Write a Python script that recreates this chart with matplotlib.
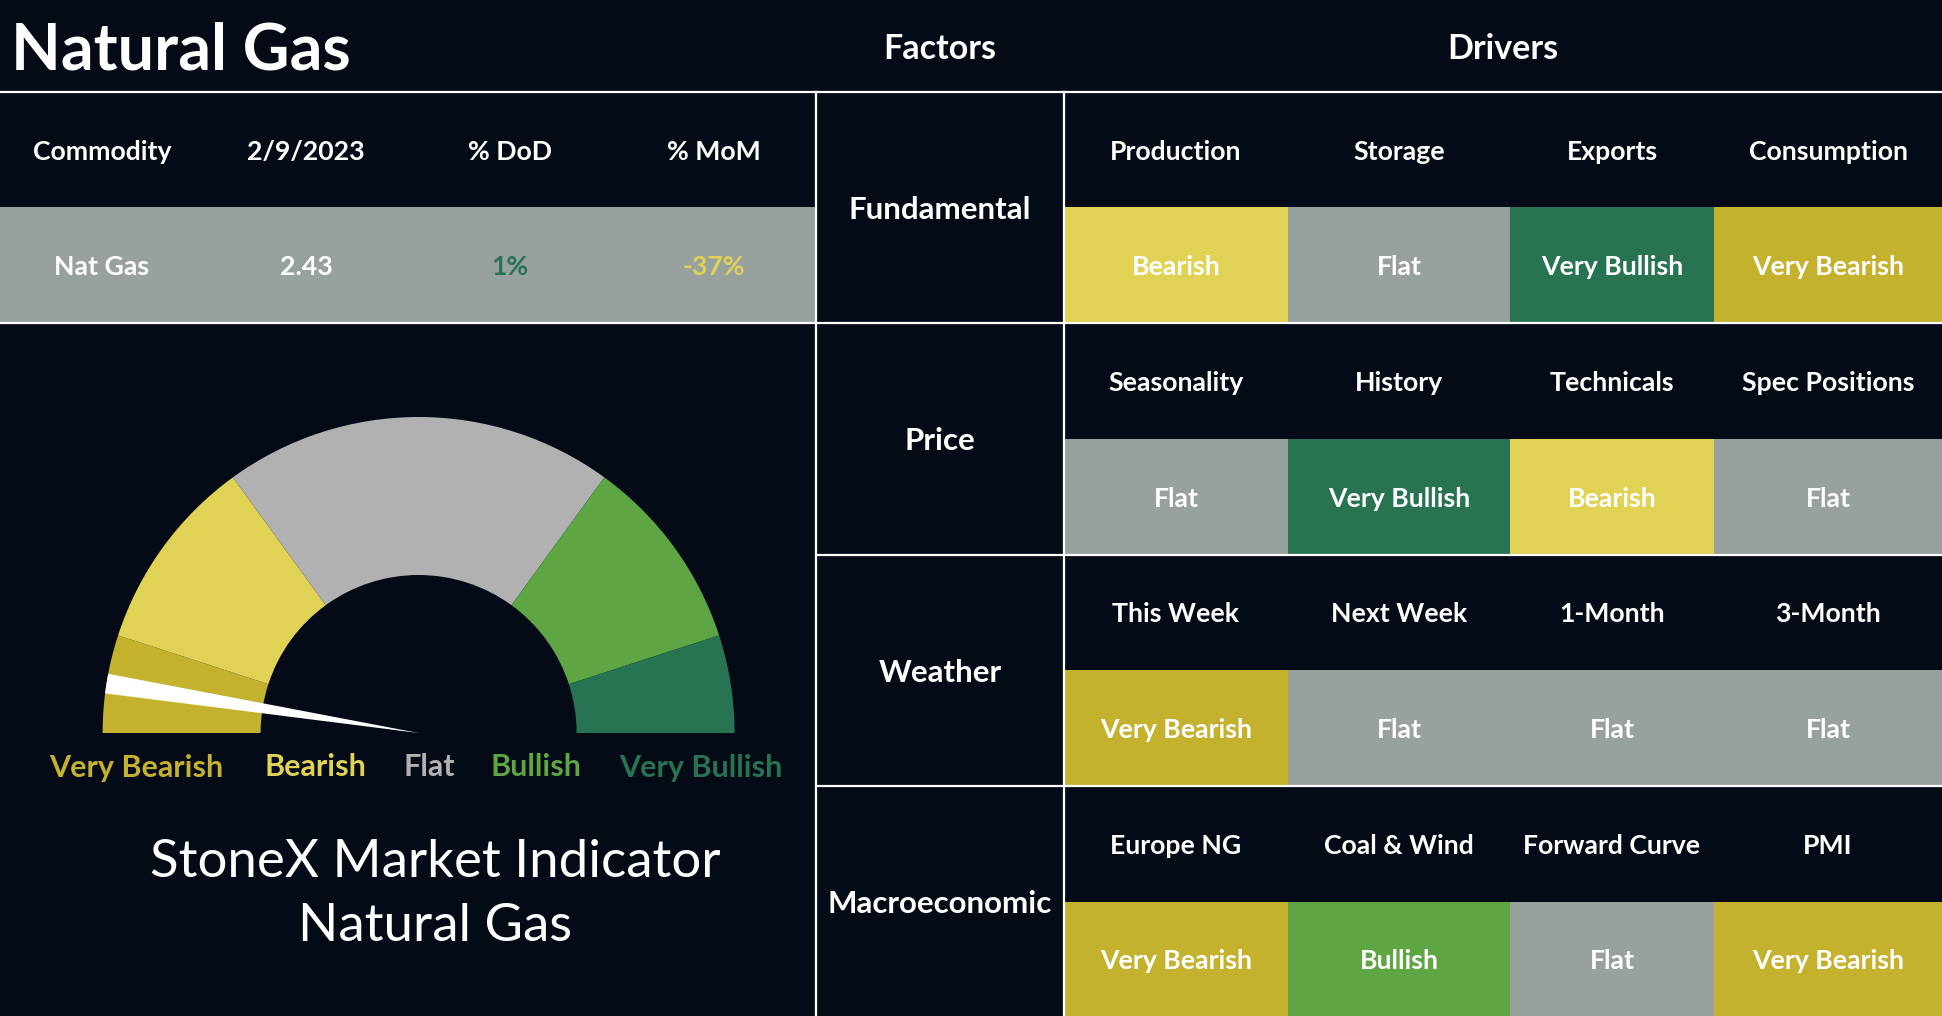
import matplotlib
matplotlib.use("Agg")
import matplotlib.pyplot as plt
from matplotlib.patches import Rectangle, Wedge

# ---------------- data ----------------
title = "Natural Gas"
table_headers = ["Commodity", "2/9/2023", "% DoD", "% MoM"]
commodity = "Nat Gas"
price = 2.43
dod_pct = 1
mom_pct = -37

factors = ["Fundamental", "Price", "Weather", "Macroeconomic"]
drivers = [
    ["Production", "Storage", "Exports", "Consumption"],
    ["Seasonality", "History", "Technicals", "Spec Positions"],
    ["This Week", "Next Week", "1-Month", "3-Month"],
    ["Europe NG", "Coal & Wind", "Forward Curve", "PMI"],
]
signals = [
    ["Bearish", "Flat", "Very Bullish", "Very Bearish"],
    ["Flat", "Very Bullish", "Bearish", "Flat"],
    ["Very Bearish", "Flat", "Flat", "Flat"],
    ["Very Bearish", "Bullish", "Flat", "Very Bearish"],
]

gauge_categories = ["Very Bearish", "Bearish", "Flat", "Bullish", "Very Bullish"]
gauge_shares = [10, 20, 40, 20, 10]
needle_value = 5          # on a 0-100 scale (0 = Very Bearish end)
gauge_subtitle = ["StoneX Market Indicator", "Natural Gas"]

# ---------------- style ----------------
BG = "#050B16"
WHITE = "#FFFFFF"
cell_colors = {
    "Very Bearish": "#C4B22E",
    "Bearish": "#E0D254",
    "Flat": "#99A19F",
    "Bullish": "#5EA543",
    "Very Bullish": "#277352",
}
gauge_colors = {
    "Very Bearish": "#C4B22E",
    "Bearish": "#E0D254",
    "Flat": "#B1B1B1",
    "Bullish": "#5EA543",
    "Very Bullish": "#277352",
}
FONT = ["Lato", "DejaVu Sans"]

W, H = 1942, 1016
fig = plt.figure(figsize=(W / 100, H / 100), dpi=100, facecolor=BG)
ax = fig.add_axes([0, 0, 1, 1])
ax.set_xlim(0, W)
ax.set_ylim(0, H)
ax.axis("off")
ax.set_facecolor(BG)


def Y(y):
    return H - y


def rect(x0, y0, x1, y1, color):
    ax.add_patch(Rectangle((x0, Y(y1)), x1 - x0, y1 - y0, facecolor=color,
                           edgecolor="none", zorder=1))


def txt(x, y, s, size, color=WHITE, weight="bold", ha="center"):
    ax.text(x, Y(y), s, fontsize=size, color=color, fontweight=weight,
            ha=ha, va="center_baseline", family=FONT, zorder=5)


# geometry
top = 91.7
row_h = 115.7
x_left_end = 816
x_fact_end = 1064
drv_cols = [1064, 1288, 1510, 1714, 1942]
CELL = 19.2

# ---- title row ----
txt(11, 46, title, 46.5, weight="bold", ha="left")
txt((x_left_end + x_fact_end) / 2, 46, "Factors", 24.5)
txt((x_fact_end + W) / 2, 46, "Drivers", 24.5)

# ---- left table ----
col_w = x_left_end / 4
rect(0, top + row_h, x_left_end, top + 2 * row_h, cell_colors["Flat"])
for i, h in enumerate(table_headers):
    txt(col_w * (i + 0.5), top + row_h / 2, h, CELL)
values = [commodity, f"{price:.2f}", f"{dod_pct}%", f"{mom_pct}%"]
vcolors = [WHITE, WHITE,
           cell_colors["Very Bullish"] if dod_pct >= 0 else cell_colors["Bearish"],
           cell_colors["Very Bullish"] if mom_pct >= 0 else cell_colors["Bearish"]]
for i, v in enumerate(values):
    txt(col_w * (i + 0.5), top + 1.5 * row_h, v, CELL, color=vcolors[i])

# ---- factors / drivers ----
for k, f in enumerate(factors):
    y0 = top + 2 * k * row_h
    txt((x_left_end + x_fact_end) / 2, y0 + row_h, f, 22.5)
    for j in range(4):
        xa, xb = drv_cols[j], drv_cols[j + 1]
        rect(xa, y0 + row_h, xb, min(y0 + 2 * row_h, H), cell_colors[signals[k][j]])
        txt((xa + xb) / 2, y0 + row_h / 2, drivers[k][j], CELL)
        txt((xa + xb) / 2, y0 + 1.5 * row_h, signals[k][j], CELL)

# ---- grid lines ----
lw = 1.6
ax.plot([0, W], [Y(top), Y(top)], color=WHITE, lw=lw, zorder=6)
ax.plot([0, W], [Y(top + 2 * row_h)] * 2, color=WHITE, lw=lw, zorder=6)
for k in (2, 3):
    yy = Y(top + 2 * k * row_h)
    ax.plot([x_left_end, W], [yy, yy], color=WHITE, lw=lw, zorder=6)
for xx in (x_left_end, x_fact_end):
    ax.plot([xx, xx], [Y(top), 0], color=WHITE, lw=lw, zorder=6)

# ---- gauge ----
cx, cy = 418.6, Y(733)
r_out, r_in = 316, 158
start = 180.0
total = sum(gauge_shares)
for cat, share in zip(gauge_categories, gauge_shares):
    span = 180.0 * share / total
    ax.add_patch(Wedge((cx, cy), r_out, start - span, start, width=r_out - r_in,
                       facecolor=gauge_colors[cat], edgecolor="none", zorder=2))
    start -= span
needle_ang = 180.0 - 180.0 * needle_value / 100.0
ax.add_patch(Wedge((cx, cy), r_out, needle_ang - 1.8, needle_ang + 1.8,
                   facecolor=WHITE, edgecolor="none", zorder=3))

label_x = [136, 315, 429, 536, 701]
for cat, lx in zip(gauge_categories, label_x):
    txt(lx, 765, cat, 22, color=gauge_colors[cat])

txt(435, 858, gauge_subtitle[0], 38, weight="normal")
txt(435, 922, gauge_subtitle[1], 38, weight="normal")

fig.savefig("out.png", dpi=100, facecolor=BG)
